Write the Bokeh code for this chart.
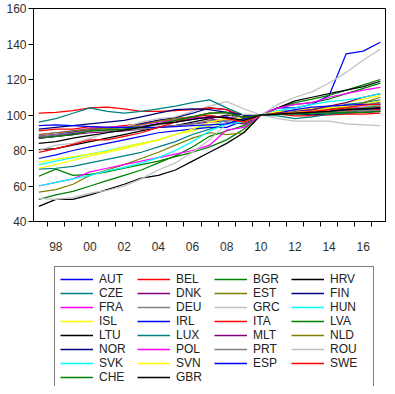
from bokeh.plotting import figure
from bokeh.layouts import column
from bokeh.models import Legend, LegendItem, FixedTicker, Range1d
from bokeh.embed import file_html
from bokeh.resources import INLINE

years = list(range(1997, 2018))
x_tick_years = [1998, 2000, 2002, 2004, 2006, 2008, 2010, 2012, 2014, 2016]
x_tick_labels = ["98", "00", "02", "04", "06", "08", "10", "12", "14", "16"]
y_ticks = [40, 60, 80, 100, 120, 140, 160]

countries = ["AUT", "BEL", "BGR", "HRV", "CZE", "DNK", "EST", "FIN", "FRA", "DEU",
             "GRC", "HUN", "ISL", "IRL", "ITA", "LVA", "LTU", "LUX", "MLT", "NLD",
             "NOR", "POL", "PRT", "ROU", "SVK", "SVN", "ESP", "SWE", "CHE", "GBR"]

palette = ["#0000FF", "#FF0000", "#008000", "#000000", "#008080", "#800080", "#808000",
           "#000080", "#FF00FF", "#808080", "#C0C0C0", "#00FFFF", "#FFFF00"]

AUT = [88, 89, 90.5, 92, 92, 92.5, 93.5, 95, 96, 97.5, 99, 99, 97, 100, 101, 101, 101, 101.5, 102, 102.5, 103]
BEL = [91, 92, 92, 93.5, 93, 94, 95, 96.5, 97, 98, 99, 98.5, 97, 100, 100.5, 100.5, 101, 102, 102.5, 102.5, 103]
BGR = [65.5, 69.5, 66, 66.5, 68, 70, 72, 74, 76.5, 79, 82, 86, 92, 100, 104, 106, 107, 109, 112, 115, 118]
HRV = [80.5, 81, 83, 85, 87, 89, 91, 93, 94, 96, 98, 100, 99, 100, 101, 100.5, 100, 100.5, 101, 101.5, 102]
CZE = [69.5, 70, 71, 73, 75, 77, 79, 82, 85, 89, 92, 95, 96, 100, 102, 101.5, 101, 103, 106, 107, 108.5]
DNK = [88, 89, 90, 92, 92.5, 93, 95, 97, 98, 99, 98, 96, 95, 100, 101.5, 102, 103, 104, 105, 106, 107]
EST = [56.5, 58, 61, 66, 69, 72, 75.5, 79, 83, 87, 90, 89, 90, 100, 102, 102, 103, 104, 104, 107, 110]
FIN = [87, 88, 89.5, 91, 92, 93, 95, 97, 98.5, 101, 104, 103, 98, 100, 101, 100.5, 100, 100.5, 101.5, 103, 104]
FRA = [89, 90, 91, 92.5, 93, 93.5, 94.5, 96, 97, 98, 99, 98.5, 98, 100, 101, 101.5, 102, 103, 103.5, 104.5, 105]
DEU = [87, 88, 89, 91, 92, 92.5, 93.5, 94.5, 96, 99, 101, 101, 96, 100, 102, 102.5, 103, 104, 105, 106, 107]
GRC = [80, 83, 84, 87, 90, 93, 96, 98, 99, 102, 105, 107.5, 103.5, 100, 98, 96.5, 96.5, 96.5, 95, 94.5, 94]
HUN = [72, 74, 76, 78, 80, 82, 84, 86, 89, 92, 94, 97, 97, 100, 101, 100.5, 101, 102, 103, 104, 106]
ISL = [73.5, 75, 76.5, 78, 79.5, 82, 84, 86, 89, 91, 94, 98, 98, 100, 101.5, 102, 104, 105, 107, 109, 111]
IRL = [75.5, 77.5, 80, 82, 84, 86, 88, 90, 91, 92, 93, 93, 97, 100, 104, 104, 106, 111, 134.5, 136, 141]
ITA = [101, 101.5, 102.5, 104, 104.5, 103.5, 102, 102, 102.5, 103, 104, 103, 99.5, 100, 100.5, 99.5, 99.5, 100, 100.5, 100.5, 101]
LVA = [52.5, 55, 57, 60, 63, 66, 69, 73, 77, 82, 88, 91, 94, 100, 104, 107, 109, 111, 114, 117, 120]
LTU = [48.5, 52.5, 52.5, 55, 58, 61, 64.5, 66, 69, 74, 79, 84, 90, 100, 104, 108, 110, 112, 114, 116, 119]
LUX = [96, 98, 101, 104, 102, 101, 102, 103.5, 105, 107, 108.5, 104, 100, 100, 99.5, 98, 99, 100.5, 101, 103, 102]
MLT = [87, 88, 89, 90, 90.5, 91, 92, 93, 94, 95, 96, 97, 96, 100, 101, 102, 103, 105, 107, 110, 112]
NLD = [89, 90, 91, 92, 92.5, 93, 94.5, 96.5, 98, 99, 101, 101.5, 98.5, 100, 101, 101, 102, 103, 103.5, 104, 105]
NOR = [92, 93, 94, 95, 96, 97, 99, 101, 103, 103.5, 103, 101.5, 100, 100, 100.5, 101.5, 101.5, 102, 103, 103.5, 104]
POL = [60, 62, 64, 68, 70, 72, 74, 76, 78, 80, 83, 91.5, 93, 100, 104, 106, 107, 110, 112, 114, 115.5]
PRT = [88, 89, 90, 91, 91, 91.5, 92, 93, 94, 95, 97, 97, 97, 100, 100.5, 101, 101.5, 101.5, 102, 102.5, 102.5]
ROU = [53, 52.5, 53.5, 56, 57.5, 60, 64, 69, 73, 79, 86, 95, 100.5, 100, 106, 110, 113, 118, 124, 131, 137]
SVK = [60, 62, 64, 66, 68.5, 70.5, 73, 76, 80, 85, 91, 95, 96, 100, 102.5, 104, 106, 107.5, 108.5, 110, 112]
SVN = [70, 72, 74.5, 77, 79, 81, 83.5, 86, 89, 92, 96, 98, 96, 100, 102, 101.5, 102, 104, 105, 106, 108]
ESP = [94, 94.5, 94, 93.5, 93, 93, 93, 93, 93.5, 94, 94.5, 95, 98, 100, 101, 103, 104.5, 105, 105.5, 106, 106]
SWE = [79, 81, 83.5, 86, 86, 88, 90, 93, 96, 99, 100, 98, 96, 100, 101, 101, 102, 103, 104, 105.5, 106]
CHE = [87, 88, 89, 91, 91.5, 92, 93, 95, 97, 99, 101, 101.5, 98.5, 100, 100.5, 100.5, 101, 101, 101.5, 101.5, 102]
GBR = [84, 85, 87, 88.5, 90, 91.5, 93, 95, 96, 97.5, 99, 98.5, 97, 100, 100.5, 101, 101.5, 102, 103, 103.5, 104]

series = [AUT, BEL, BGR, HRV, CZE, DNK, EST, FIN, FRA, DEU, GRC, HUN, ISL, IRL, ITA,
          LVA, LTU, LUX, MLT, NLD, NOR, POL, PRT, ROU, SVK, SVN, ESP, SWE, CHE, GBR]

# ---- main chart ----
p = figure(width=386, height=255, output_backend="svg", toolbar_location=None,
           x_range=Range1d(1996.69, 2017.36), y_range=Range1d(40, 160),
           min_border_left=33, min_border_right=0, min_border_top=8, min_border_bottom=34)
p.background_fill_color = "white"
p.border_fill_color = "white"
p.outline_line_color = "black"
p.outline_line_width = 1
p.xgrid.visible = False
p.ygrid.visible = False

for i, vals in enumerate(series):
    p.line(years, vals, line_color=palette[i % len(palette)], line_width=1.25)

p.xaxis.ticker = FixedTicker(ticks=x_tick_years,
                             minor_ticks=[y + 0.5 for y in range(1996, 2018)])
p.xaxis.major_label_overrides = {y: l for y, l in zip(x_tick_years, x_tick_labels)}
p.xaxis.major_tick_out = 0
p.xaxis.major_tick_in = 0
p.xaxis.minor_tick_out = 5
p.xaxis.minor_tick_in = 0
p.xaxis.major_label_standoff = 15

p.yaxis.ticker = FixedTicker(ticks=y_ticks)
p.yaxis.minor_tick_out = 0
p.yaxis.minor_tick_in = 0
p.yaxis.major_tick_out = 5
p.yaxis.major_tick_in = 0
p.yaxis.major_label_standoff = 2

for ax in (p.xaxis, p.yaxis):
    ax.axis_line_color = "black"
    ax.major_tick_line_color = "black"
    ax.minor_tick_line_color = "black"
    ax.major_label_text_font = "Liberation Sans"
    ax.major_label_text_font_size = "12px"
    ax.major_label_text_color = "#303030"

# ---- legend panel (key swatches only; the data lines are drawn above) ----
q = figure(frame_width=386, frame_height=131, output_backend="svg", toolbar_location=None,
           x_axis_location=None, y_axis_location=None,
           x_range=Range1d(0, 1), y_range=Range1d(0, 1),
           min_border=0, min_border_left=0, min_border_right=0,
           min_border_top=0, min_border_bottom=0)
q.outline_line_color = None
q.xgrid.visible = False
q.ygrid.visible = False

items = []
for i, name in enumerate(countries):
    r = q.line(x=[5, 6], y=[5, 6], line_color=palette[i % len(palette)], line_width=1.6)
    items.append(LegendItem(label=name, renderers=[r]))

legend = Legend(items=items, orientation="horizontal", ncols=4,
                location=(54, -4), glyph_width=33, glyph_height=14,
                label_height=14, label_width=38, label_standoff=6, spacing=0,
                padding=5, margin=0, border_line_color="black", border_line_width=1,
                label_text_font="Liberation Sans", label_text_font_size="12px",
                label_text_color="#222222", background_fill_alpha=1)
q.add_layout(legend, "center")

layout = column(p, q, spacing=0)
open("out.html", "w").write(file_html(layout, INLINE))
